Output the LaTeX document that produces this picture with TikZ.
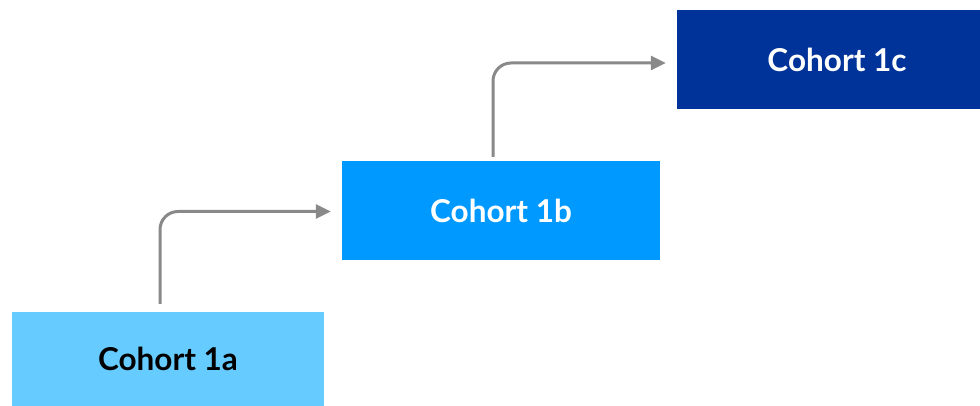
\documentclass[tikz,border=0pt]{standalone}
\usepackage{fontspec}
\setmainfont{Lato}
\usetikzlibrary{arrows.meta}
\definecolor{c1a}{HTML}{66CCFF}
\definecolor{c1b}{HTML}{0099FF}
\definecolor{c1c}{HTML}{003399}
\definecolor{arr}{HTML}{898989}
\tikzset{
  box/.style={rectangle, inner sep=0pt, font=\fontsize{31.5}{36}\selectfont\bfseries},
  conn/.style={draw=arr, line width=3pt, rounded corners=18pt, -{Triangle[length=15pt,width=14pt]}}
}
\begin{document}
\begin{tikzpicture}[x=1pt,y=-1pt]
\useasboundingbox (0,0) rectangle (980,406);
\begin{scope}
\clip (0,0) rectangle (980,406);
\node[box, fill=c1a, text=black, minimum width=312pt, minimum height=94pt] (a) at (168,359) {\raisebox{-4pt}{Cohort 1a}};
\node[box, fill=c1b, text=white, minimum width=318pt, minimum height=99pt] (b) at (501,210.5) {\raisebox{-1.5pt}{Cohort 1b}};
\node[box, fill=c1c, text=white, minimum width=320pt, minimum height=99pt] (c) at (837,59.5) {\raisebox{-2.5pt}{Cohort 1c}};
\end{scope}
\draw[conn, shorten >=11pt] ([xshift=-8pt,yshift=8pt]a.north) |- ([yshift=-1pt]b.west);
\draw[conn, shorten >=11pt] ([xshift=-8pt,yshift=4pt]b.north) |- ([yshift=-3.5pt]c.west);
\end{tikzpicture}
\end{document}
